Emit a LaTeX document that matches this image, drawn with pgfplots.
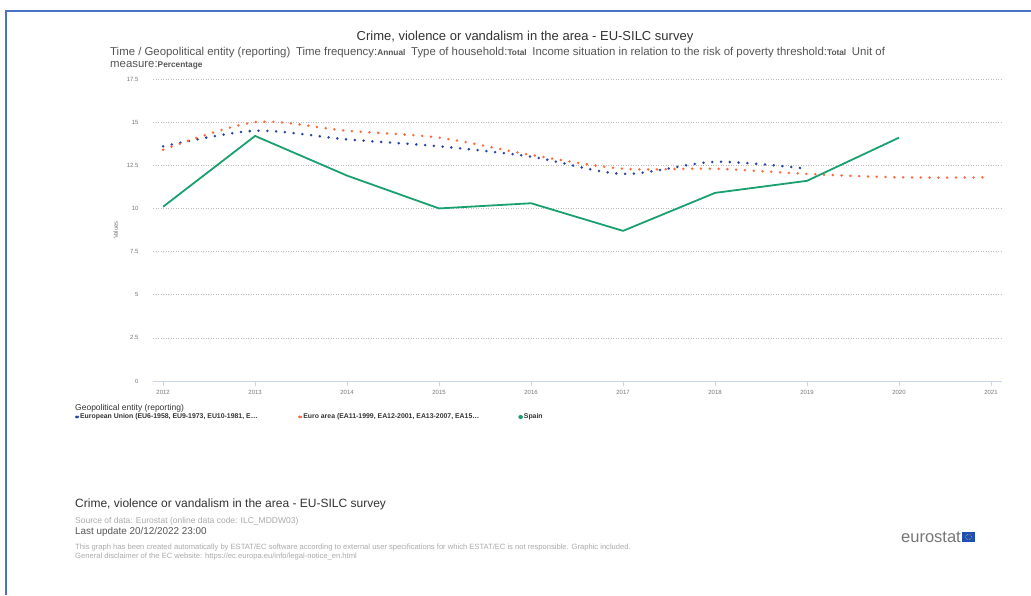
\documentclass[border=0pt]{standalone}
\usepackage{pgfplots}
\pgfplotsset{compat=1.18}
\usepackage{fontspec}
\setmainfont{Liberation Sans}
\definecolor{eublue}{HTML}{2644A7}
\definecolor{eaorange}{HTML}{FF6A3D}
\definecolor{esgreen}{HTML}{1AA06F}
\definecolor{frameblue}{HTML}{4A72C4}
\definecolor{txtdark}{HTML}{333333}
\definecolor{txtmid}{HTML}{555555}
\definecolor{txtgray}{HTML}{777777}
\definecolor{txtlight}{HTML}{AAAAAA}
\definecolor{axisline}{HTML}{CCD6EB}
\definecolor{gridgray}{HTML}{BBBBBB}
\definecolor{flagblue}{HTML}{1F4FB4}
\newcommand{\fs}[1]{\fontsize{#1}{#1}\selectfont}
\begin{document}
\begin{tikzpicture}[x=1pt,y=1pt]
\useasboundingbox (0,0) rectangle (1031,595);
\fill[white] (0,0) rectangle (1031,595);
\draw[frameblue, line width=1.6pt] (6,0) -- (6,584) -- (1031,584);

% titles
\node[anchor=base, inner sep=0, text=txtdark, font=\fs{13}] at (525,554) {Crime, violence or vandalism in the area - EU-SILC survey};
\node[anchor=base west, inner sep=0, text=txtmid, font=\fs{11.4}] at (110,539.5) {Time / Geopolitical entity (reporting)\enspace Time frequency:{\bfseries\fs{8.3}Annual}\enspace Type of household:{\bfseries\fs{8.3}Total}\enspace Income situation in relation to the risk of poverty threshold:{\bfseries\fs{8.3}Total}\enspace Unit of};
\node[anchor=base west, inner sep=0, text=txtmid, font=\fs{11.4}] at (110,527.5) {measure:{\bfseries\fs{8.3}Percentage}};

\begin{axis}[
  at={(153pt,214pt)}, anchor=south west,
  scale only axis, width=849pt, height=302pt,
  xmin=2011.89, xmax=2021.12, ymin=0, ymax=17.5,
  xtick={2012,2013,2014,2015,2016,2017,2018,2019,2020,2021},
  xticklabels={2012,2013,2014,2015,2016,2017,2018,2019,2020,2021},
  ytick={0,2.5,5,7.5,10,12.5,15,17.5},
  yticklabels={0,2.5,5,7.5,10,12.5,15,17.5},
  axis x line*=bottom, axis y line*=left,
  x axis line style={draw=axisline, line width=0.8pt, -},
  y axis line style={draw=none, -},
  ytick style={draw=none},
  xtick style={draw=axisline, line width=0.8pt},
  tick align=outside, major tick length=5pt,
  ymajorgrids,
  grid style={gridgray, line width=0.6pt, dash pattern=on 1pt off 1.5pt},
  ticklabel style={font=\fs{6}, text=txtgray},
  yticklabel style={xshift=-6pt},
  xticklabel style={yshift=-1pt},
  ylabel={Values},
  ylabel style={font=\fs{6}, text=txtgray, at={(axis description cs:-0.044,0.5)}, anchor=center},
  legend columns=3,
  legend cell align=left,
  legend style={draw=none, fill=none, at={(axis description cs:-0.0975,-0.119)}, anchor=west,
    font=\bfseries\fs{6.9}, text=txtdark, nodes={inner sep=0.9pt},
    /tikz/every even column/.append style={column sep=38pt}},
  legend image code/.code={\fill[#1] (0pt,0pt) circle (1.5pt);},
]
\addplot[eublue, line width=2.8pt, line cap=round, dash pattern=on 0pt off 8.8pt, smooth] coordinates {
(2012,13.6) (2013,14.5) (2014,14.0) (2015,13.6) (2016,13.0) (2017,12.0) (2018,12.7) (2019,12.3)};
\addlegendentry{European Union (EU6-1958, EU9-1973, EU10-1981, E…}
\addplot[eaorange, line width=2.8pt, line cap=round, dash pattern=on 0pt off 8.8pt, smooth] coordinates {
(2012,13.4) (2013,15.0) (2014,14.5) (2015,14.1) (2016,13.1) (2017,12.3) (2018,12.3) (2019,12.0) (2020,11.8) (2021,11.8)};
\addlegendentry{Euro area (EA11-1999, EA12-2001, EA13-2007, EA15…}
\addplot[esgreen, line width=1.8pt, line join=round] coordinates {
(2012,10.1) (2013,14.2) (2014,11.9) (2015,10.0) (2016,10.3) (2017,8.7) (2018,10.9) (2019,11.6) (2020,14.1)};
\addlegendentry{Spain}
\end{axis}

\node[anchor=base west, inner sep=0, text=txtdark, font=\fs{8.5}] at (75,185) {Geopolitical entity (reporting)};

% footer
\node[anchor=base west, inner sep=0, text=txtdark, font=\fs{12}] at (75,88) {Crime, violence or vandalism in the area - EU-SILC survey};
\node[anchor=base west, inner sep=0, text=txtlight, font=\fs{8.5}] at (75,72) {Source of data: Eurostat (online data code: ILC\_MDDW03)};
\node[anchor=base west, inner sep=0, text=txtmid, font=\fs{9.9}] at (75,61) {Last update 20/12/2022 23:00};
\node[anchor=base west, inner sep=0, text=txtlight, font=\fs{7.6}] at (75,46) {This graph has been created automatically by ESTAT/EC software according to external user specifications for which ESTAT/EC is not responsible. Graphic included.};
\node[anchor=base west, inner sep=0, text=txtlight, font=\fs{7.6}] at (75,37) {General disclaimer of the EC website: https://ec.europa.eu/info/legal-notice\_en.html};
\node[anchor=base east, inner sep=0, text=txtgray, font=\fs{16.5}] at (961,53) {eurostat};
\fill[flagblue] (962,53) rectangle (975,63);
\draw[yellow!90!orange, line width=0.5pt, dash pattern=on 0.6pt off 1.2pt] (968.5,58) circle (3pt);
\end{tikzpicture}
\end{document}
